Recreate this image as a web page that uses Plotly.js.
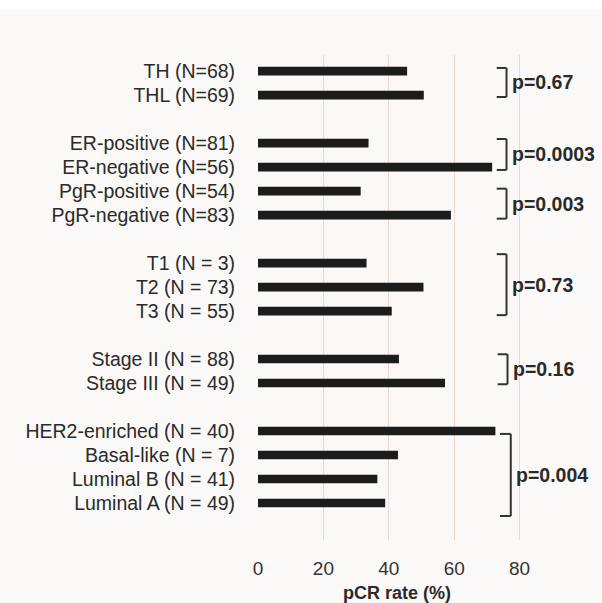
<!DOCTYPE html>
<html>
<head>
<meta charset="utf-8">
<script src="https://cdn.plot.ly/plotly-3.0.1.min.js"></script>
<style>html,body{margin:0;padding:0;background:#faf9f7;}</style>
</head>
<body>
<div id="chart" style="width:602px;height:603px;"></div>
<script>
// ---- data ----
const sectionLabels = [
  ["TH (N=68)", "THL (N=69)"],
  ["ER-positive (N=81)", "ER-negative (N=56)", "PgR-positive (N=54)", "PgR-negative (N=83)"],
  ["T1 (N = 3)", "T2 (N = 73)", "T3 (N = 55)"],
  ["Stage II (N = 88)", "Stage III (N = 49)"],
  ["HER2-enriched (N = 40)", "Basal-like (N = 7)", "Luminal B (N = 41)", "Luminal A (N = 49)"]
];
const sectionValues = [
  [45.6, 50.7],
  [33.8, 71.6, 31.4, 59.0],
  [33.2, 50.6, 40.9],
  [43.1, 57.2],
  [72.6, 42.8, 36.5, 38.9]
];
const bracketSizes = [2, 2, 2, 3, 2, 4];
const pValues = ["p=0.67", "p=0.0003", "p=0.003", "p=0.73", "p=0.16", "p=0.004"];
const xTicks = [0, 20, 40, 60, 80];
const xTitle = "pCR rate (%)";

// ---- build categories with spacer rows ----
const cats = [], vals = [], barIdx = [];
sectionLabels.forEach((sec, s) => {
  if (s > 0) { cats.push(" ".repeat(s)); vals.push(null); }
  sec.forEach((lab, i) => {
    barIdx.push(cats.length);
    cats.push(lab); vals.push(sectionValues[s][i]);
  });
});

const FONT = 'Liberation Sans, Arial, sans-serif';

// ---- bracket styling ----
const bracketStyle = [
  {top: -0.13, bot: 0.08, xv: 76.0, xt: 73.0},
  {top: -0.17, bot: 0.12, xv: 76.0, xt: 73.0},
  {top: -0.1, bot: 0.15, xv: 76.0, xt: 73.0},
  {top: -0.37, bot: 0.17, xv: 76.0, xt: 73.0},
  {top: -0.2, bot: 0.05, xv: 76.3, xt: 73.3},
  {top: 0.12, bot: 0.54, xv: 77.3, xt: 74.0}
];
const shapes = [], annotations = [];
let b = 0;
bracketSizes.forEach((n, k) => {
  const first = barIdx[b], last = barIdx[b + n - 1];
  b += n;
  const st = bracketStyle[k];
  const y0 = first + st.top, y1 = last + st.bot;
  const line = {color: '#333333', width: 2};
  shapes.push({type: 'line', xref: 'x', yref: 'y', x0: st.xv, x1: st.xv, y0: y0, y1: y1, line: line});
  shapes.push({type: 'line', xref: 'x', yref: 'y', x0: st.xt, x1: st.xv, y0: y0, y1: y0, line: line});
  shapes.push({type: 'line', xref: 'x', yref: 'y', x0: st.xt, x1: st.xv, y0: y1, y1: y1, line: line});
  annotations.push({
    x: st.xv, y: (y0 + y1) / 2, xref: 'x', yref: 'y', xanchor: 'left', yanchor: 'middle',
    xshift: 3, showarrow: false, text: '<b>' + pValues[k] + '</b>',
    font: {family: FONT, size: 19.5, color: '#2a2a2a'}
  });
});
// x-axis title (placed under the tick labels, centred as in the reference)
annotations.push({
  x: 42.5, y: 0, xref: 'x', yref: 'paper', xanchor: 'center', yanchor: 'middle',
  yshift: -53, showarrow: false, text: '<b>' + xTitle + '</b>',
  font: {family: FONT, size: 18, color: '#2a2a2a'}
});
// white strip at top
shapes.push({type: 'rect', xref: 'paper', yref: 'paper', x0: -1, x1: 2, y0: 1.093, y1: 1.2,
  fillcolor: '#ffffff', line: {width: 0}, layer: 'below'});

const trace = {
  type: 'bar', orientation: 'h', y: cats, x: vals,
  marker: {color: '#1c1c1c'}, hoverinfo: 'none'
};

const layout = {
  width: 602, height: 603,
  margin: {l: 258, r: 17, t: 55, b: 63},
  paper_bgcolor: '#faf9f7', plot_bgcolor: '#faf9f7',
  bargap: 0.64,
  showlegend: false,
  xaxis: {
    range: [0, 100], tickvals: xTicks, ticktext: xTicks.map(String),
    showgrid: true, gridcolor: '#ead9cf', gridwidth: 1, zeroline: false,
    showline: false, ticks: 'outside', ticklen: 11, tickcolor: 'rgba(0,0,0,0)',
    tickfont: {family: FONT, size: 19, color: '#333333'},
    fixedrange: true
  },
  yaxis: {
    type: 'category', categoryorder: 'array', categoryarray: cats,
    range: [cats.length - 1 + 1.54, -0.67],
    showgrid: false, zeroline: false, showline: false,
    ticks: 'outside', ticklen: 18, tickcolor: 'rgba(0,0,0,0)',
    tickfont: {family: FONT, size: 19.5, color: '#2a2a2a'},
    fixedrange: true
  },
  shapes: shapes,
  annotations: annotations
};

Plotly.newPlot('chart', [trace], layout, {displayModeBar: false, staticPlot: true});
</script>
</body>
</html>
